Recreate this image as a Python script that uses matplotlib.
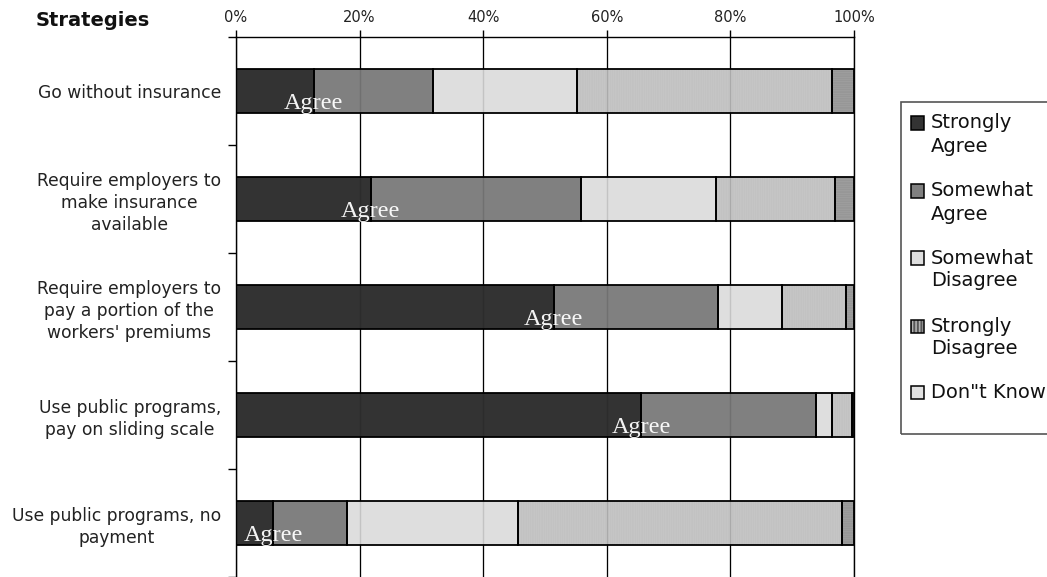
import matplotlib.pyplot as plt
from matplotlib.patches import Rectangle

strategies = [
    "Go without insurance",
    "Require employers to\nmake insurance\navailable",
    "Require employers to\npay a portion of the\nworkers' premiums",
    "Use public programs,\npay on sliding scale",
    "Use public programs, no\npayment",
]
responses = ["Strongly\nAgree", "Somewhat\nAgree", "Somewhat\nDisagree",
             "Strongly\nDisagree", 'Don"t Know']

# percent of respondents per strategy
strongly_agree = [12.6, 21.8, 51.4, 65.6, 6.0]
somewhat_agree = [19.3, 34.0, 26.6, 28.2, 12.0]
somewhat_disagree = [23.2, 21.8, 10.4, 2.6, 27.6]
strongly_disagree = [41.3, 19.3, 10.3, 3.3, 52.5]
dont_know = [3.6, 3.1, 1.3, 0.3, 1.9]

xticks = [0, 20, 40, 60, 80, 100]

series = [strongly_agree, somewhat_agree, somewhat_disagree, strongly_disagree, dont_know]
# (face colour, hatch colour, hatch)
styles = [
    ("#333333", "#333333", None),
    ("#808080", "#808080", None),
    ("#dedede", "#dedede", None),
    ("#eaeaea", "#c0c0c0", "|" * 24),
    ("#e2e2e2", "#929292", "-" * 24),
]

plt.rcParams["font.family"] = "DejaVu Sans"
plt.rcParams["hatch.linewidth"] = 0.45

fig = plt.figure(figsize=(10.47, 5.77), dpi=100)
W, H = 1047, 577
ax = fig.add_axes([236 / W, 0, 618 / W, 1 - 37 / H])

ypos = list(range(len(strategies)))
left = [0] * len(strategies)
for vals, (face, hcol, hatch) in zip(series, styles):
    ax.barh(ypos, vals, left=left, height=0.4, color=face, edgecolor=hcol,
            linewidth=0, hatch=hatch, zorder=2)
    ax.barh(ypos, vals, left=left, height=0.4, fill=False, edgecolor="black",
            linewidth=1.3, zorder=3)
    left = [l + v for l, v in zip(left, vals)]

# faint grid showing through the bars
ax.vlines([20, 40, 60, 80], -0.5, 4.5, color="black", alpha=0.12, lw=1, zorder=4)

for i, sa in enumerate(strongly_agree):
    ax.text(sa, i + 0.165, "Agree", ha="center", va="baseline", color="white",
            fontsize=17.5, family="Liberation Serif", alpha=0.95, zorder=5)

ax.set_xlim(0, 100)
ax.set_ylim(4.5, -0.5)
ax.xaxis.tick_top()
ax.set_xticks(xticks)
ax.set_xticklabels([f"{t}%" for t in xticks], fontsize=10.5, color="#222222")
ax.tick_params(axis="x", direction="out", length=5, width=1, pad=4)
ax.xaxis.grid(True, color="black", lw=0.9)
ax.set_axisbelow(True)

ax.set_yticks(ypos)
ax.set_yticklabels(strategies, fontsize=12.3, color="#222222")
ax.set_yticks([-0.5, 0.5, 1.5, 2.5, 3.5, 4.5], minor=True)
ax.tick_params(axis="y", which="major", length=0, pad=10.8)
ax.tick_params(axis="y", which="minor", length=6, width=1, direction="out")
for t in ax.get_yticklabels():
    t.set_multialignment("center")
    t.set_linespacing(1.3)

for s in ["top", "left", "right"]:
    ax.spines[s].set_color("black")
    ax.spines[s].set_linewidth(1)
ax.spines["bottom"].set_visible(False)

fig.text(36 / W, 1 - 20 / H, "Strategies", fontsize=14, fontweight="bold",
         va="center", ha="left", color="#111111")

# legend box, drawn by hand so the swatch sits on the first line
fig.patches.append(Rectangle((901 / W, 1 - 434 / H), 200 / W, 332 / H,
                             transform=fig.transFigure, fill=False,
                             edgecolor="#555555", linewidth=1.2))
entry_y = [123, 191, 258, 326, 392]
for label, (face, hcol, hatch), y in zip(responses, styles, entry_y):
    fig.patches.append(Rectangle((911 / W, 1 - (y + 6.5) / H), 13 / W, 13 / H,
                                 transform=fig.transFigure, facecolor=face,
                                 edgecolor="black", linewidth=1.1,
                                 hatch=("|" * 12 if hatch and "|" in hatch else None)))
    for k, line in enumerate(label.split("\n")):
        fig.text(931 / W, 1 - (y + 23 * k) / H, line, fontsize=14,
                 va="center", ha="left", color="#111111")

fig.savefig("out.png", dpi=100)
